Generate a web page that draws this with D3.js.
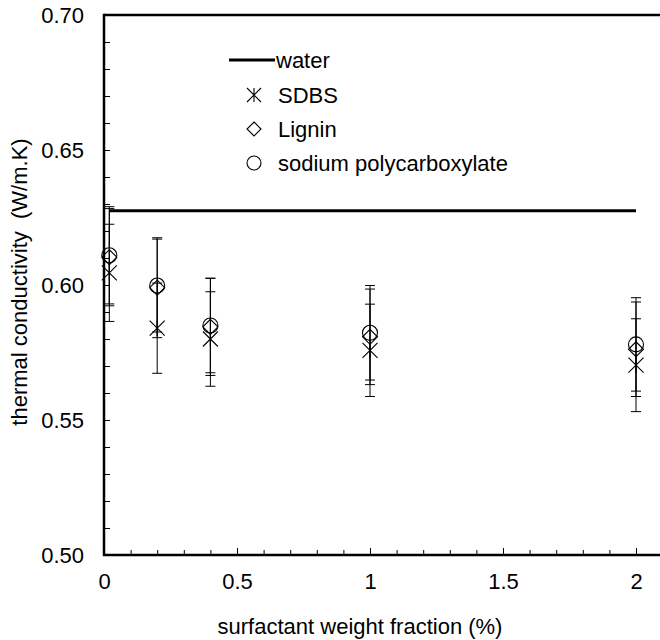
<!DOCTYPE html>
<html><head><meta charset="utf-8">
<script src="https://cdn.jsdelivr.net/npm/d3@7"></script>
<style>body{margin:0;background:#fff}svg{display:block}text{font-family:"Liberation Sans",Arial,sans-serif;fill:#000}</style>
</head><body>
<svg id="c" width="660" height="640"></svg>
<script>
const xValues = [0.02, 0.2, 0.4, 1, 2];
const sdbs = [0.6045, 0.584, 0.580, 0.5758, 0.5703];
const sdbsErr = [0.018, 0.0167, 0.0175, 0.0171, 0.0172];
const lignin = [0.6103, 0.599, 0.5845, 0.5808, 0.5762];
const ligninErr = [0.018, 0.0185, 0.018, 0.0177, 0.0175];
const polycarb = [0.611, 0.5998, 0.585, 0.5823, 0.578];
const polycarbErr = [0.018, 0.0172, 0.0175, 0.0175, 0.0173];
const waterX = [0.02, 2];
const waterY = [0.6275, 0.6275];
const yTicks = [0.50, 0.55, 0.60, 0.65, 0.70];
const xTicks = [0, 0.5, 1, 1.5, 2];
const seriesNames = ["water", "SDBS", "Lignin", "sodium polycarboxylate"];

const svg = d3.select("#c");
const x = d3.scaleLinear().domain([0, 2.1]).range([104, 662.6]);
const y = d3.scaleLinear().domain([0.50, 0.70]).range([555, 15]);
const FS = 22;

// frame: top border
svg.append("line").attr("x1", x(0)).attr("x2", x(2.1)).attr("y1", y(0.70)).attr("y2", y(0.70))
  .attr("stroke", "#000").attr("stroke-width", 2.5);

// y axis
const yMinor = d3.range(51, 70).map(d => d / 100).filter(v => Math.round(v * 100) % 5 !== 0);
const gy = svg.append("g").attr("transform", `translate(${x(0)},0)`);
gy.call(d3.axisRight(y).tickValues(yMinor).tickSize(6).tickFormat(""));
gy.call(g => g.selectAll(".domain").remove());
const gy2 = svg.append("g").attr("transform", `translate(${x(0)},0)`);
gy2.call(d3.axisLeft(y).tickValues(yTicks).tickSize(0).tickPadding(20).tickFormat(d3.format(".2f")));
gy2.select(".domain").remove();
gy2.selectAll("text").style("font-size", FS + "px").style("font-family", "Liberation Sans, Arial, sans-serif").attr("fill", "#000");
const gy3 = svg.append("g").attr("transform", `translate(${x(0)},0)`);
gy3.call(d3.axisRight(y).tickValues(yTicks).tickSize(6).tickFormat(""));
gy3.select(".domain").remove();
svg.selectAll(".tick line").attr("stroke", "#000");
svg.append("line").attr("x1", x(0)).attr("x2", x(0)).attr("y1", y(0.70) - 1.2).attr("y2", y(0.50) + 1)
  .attr("stroke", "#000").attr("stroke-width", 2.5);

// x axis
const xMinor = d3.range(1, 21).map(d => d / 10).filter(v => Math.round(v * 10) % 5 !== 0);
const gx = svg.append("g").attr("transform", `translate(0,${y(0.50)})`);
gx.call(d3.axisTop(x).tickValues(xMinor).tickSize(5).tickFormat(""));
gx.select(".domain").remove();
const gx2 = svg.append("g").attr("transform", `translate(0,${y(0.50)})`);
gx2.call(d3.axisTop(x).tickValues(xTicks).tickSize(7).tickFormat(""));
gx2.select(".domain").remove();
const gx3 = svg.append("g").attr("transform", `translate(0,${y(0.50)})`);
gx3.call(d3.axisBottom(x).tickValues(xTicks).tickSize(0).tickPadding(18).tickFormat(d => d3.format("")(d)));
gx3.select(".domain").remove();
gx3.selectAll("text").style("font-size", FS + "px").style("font-family", "Liberation Sans, Arial, sans-serif").attr("fill", "#000");
svg.selectAll(".tick line").attr("stroke", "#000");
svg.append("line").attr("x1", x(0) - 1).attr("x2", x(2.1)).attr("y1", y(0.50)).attr("y2", y(0.50))
  .attr("stroke", "#000").attr("stroke-width", 2.5);

// axis titles
svg.append("text").attr("x", 360).attr("y", 634).attr("text-anchor", "middle")
  .style("font-size", FS + "px").text("surfactant weight fraction (%)");
svg.append("text").attr("transform", `translate(27,${282}) rotate(-90)`).attr("text-anchor", "middle")
  .attr("xml:space", "preserve").style("white-space", "pre")
  .style("font-size", FS + "px").text("thermal conductivity  (W/m.K)");

// water line
svg.append("path").datum(waterX.map((d, i) => [d, waterY[i]]))
  .attr("d", d3.line().x(d => x(d[0])).y(d => y(d[1])))
  .attr("stroke", "#000").attr("stroke-width", 3).attr("fill", "none");

// error bars
function errBars(vals, errs) {
  const g = svg.append("g").attr("stroke", "#000").attr("stroke-width", 1);
  xValues.forEach((xv, i) => {
    const cx = x(xv), y1 = y(vals[i] + errs[i]), y2 = y(vals[i] - errs[i]);
    g.append("line").attr("x1", cx).attr("x2", cx).attr("y1", y1).attr("y2", y2);
    g.append("line").attr("x1", cx - 5).attr("x2", cx + 5).attr("y1", y1).attr("y2", y1);
    g.append("line").attr("x1", cx - 5).attr("x2", cx + 5).attr("y1", y2).attr("y2", y2);
  });
}
errBars(sdbs, sdbsErr);
errBars(lignin, ligninErr);
errBars(polycarb, polycarbErr);

// markers
function star(g, cx, cy, s) {
  g.append("path").attr("d", `M${cx - s},${cy - s}L${cx + s},${cy + s}M${cx - s},${cy + s}L${cx + s},${cy - s}M${cx},${cy - s}L${cx},${cy + s}`);
}
function diamond(g, cx, cy, s) {
  g.append("path").attr("d", `M${cx},${cy - s}L${cx + s},${cy}L${cx},${cy + s}L${cx - s},${cy}Z`);
}
function circle(g, cx, cy, r) {
  g.append("circle").attr("cx", cx).attr("cy", cy).attr("r", r);
}
const gm = svg.append("g").attr("stroke", "#000").attr("stroke-width", 1.1).attr("fill", "none");
xValues.forEach((xv, i) => star(gm, x(xv), y(sdbs[i]), 7.5));
xValues.forEach((xv, i) => diamond(gm, x(xv), y(lignin[i]), 7.5));
xValues.forEach((xv, i) => circle(gm, x(xv), y(polycarb[i]), 7.5));

// legend
const lg = svg.append("g");
lg.append("line").attr("x1", 229).attr("x2", 275).attr("y1", 60).attr("y2", 60).attr("stroke", "#000").attr("stroke-width", 3);
lg.append("text").attr("x", 276).attr("y", 60).attr("dy", "0.35em").style("font-size", FS + "px").text(seriesNames[0]);
const rows = [95, 129, 163];
const lm = lg.append("g").attr("stroke", "#000").attr("stroke-width", 1.1).attr("fill", "none");
star(lm, 254, rows[0], 7);
diamond(lm, 254, rows[1], 7);
circle(lm, 254, rows[2], 7);
[1, 2, 3].forEach((k, i) => lg.append("text").attr("x", 278).attr("y", rows[i]).attr("dy", "0.35em")
  .style("font-size", FS + "px").text(seriesNames[k]));
</script>
</body></html>
